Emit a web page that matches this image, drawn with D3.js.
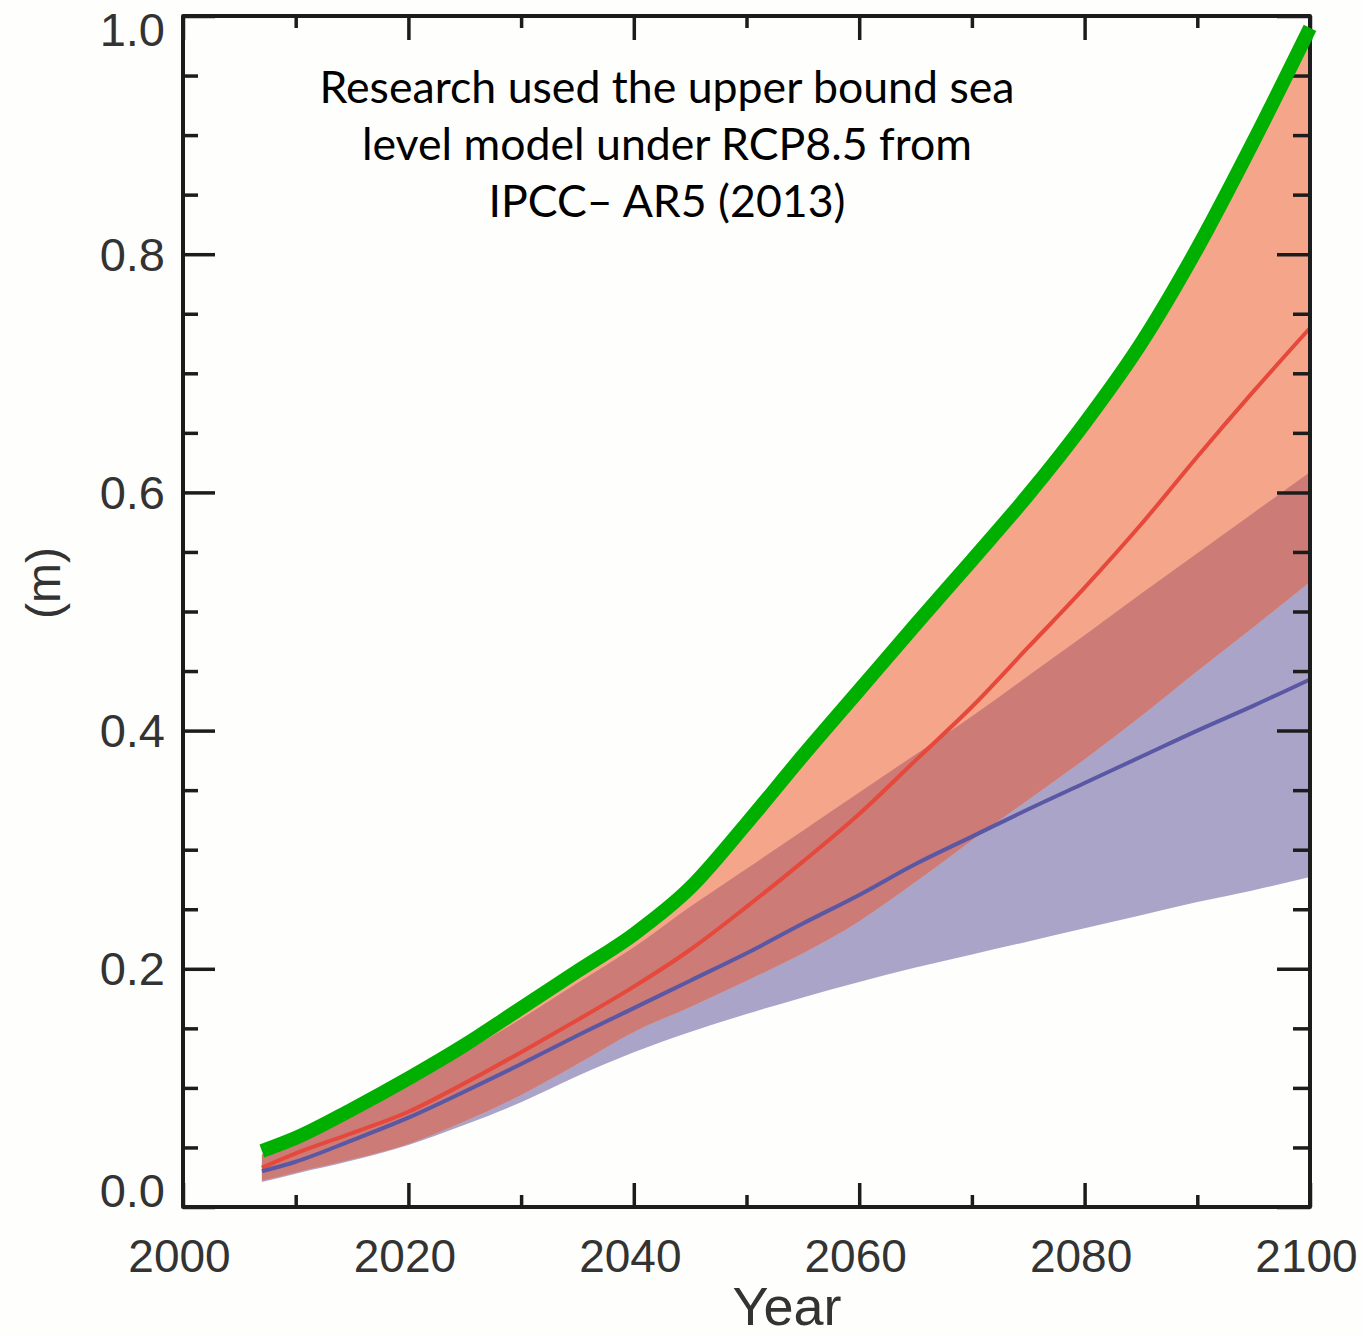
<!DOCTYPE html>
<html>
<head>
<meta charset="utf-8">
<script src="https://cdn.jsdelivr.net/npm/d3@7"></script>
<style>
  html, body { margin: 0; padding: 0; background: #fefefc; }
  svg { display: block; }
</style>
</head>
<body>
<svg id="chart" width="1362" height="1335"></svg>
<script>
// ---- data ----
const years = [2007, 2010, 2015, 2020, 2025, 2030, 2035, 2040, 2045, 2050,
               2055, 2060, 2065, 2070, 2075, 2080, 2085, 2090, 2095, 2100];

// upper-bound RCP8.5 line (green)
const upperBound = [0.047, 0.058, 0.082, 0.108, 0.136, 0.167, 0.198, 0.229, 0.268, 0.322,
                    0.379, 0.434, 0.489, 0.543, 0.598, 0.658, 0.725, 0.805, 0.895, 0.990];

// RCP8.5 band and median (red)
const redUpper  = [0.044, 0.055, 0.079, 0.105, 0.133, 0.163, 0.194, 0.225, 0.265, 0.318,
                   0.375, 0.430, 0.485, 0.540, 0.595, 0.655, 0.722, 0.800, 0.890, 0.978];
const redMedian = [0.033, 0.045, 0.062, 0.080, 0.104, 0.130, 0.157, 0.185, 0.216, 0.252,
                   0.290, 0.330, 0.375, 0.420, 0.470, 0.520, 0.573, 0.630, 0.685, 0.738];
const redLower  = [0.022, 0.029, 0.040, 0.053, 0.072, 0.094, 0.120, 0.147, 0.168, 0.190,
                   0.213, 0.240, 0.273, 0.308, 0.342, 0.376, 0.412, 0.450, 0.487, 0.525];

// RCP2.6 band and median (blue)
const blueUpper  = [0.044, 0.055, 0.078, 0.103, 0.130, 0.158, 0.188, 0.218, 0.252, 0.284,
                    0.316, 0.348, 0.380, 0.412, 0.446, 0.480, 0.515, 0.549, 0.583, 0.617];
const blueMedian = [0.030, 0.038, 0.056, 0.075, 0.097, 0.120, 0.144, 0.167, 0.190, 0.213,
                    0.238, 0.262, 0.288, 0.311, 0.334, 0.356, 0.378, 0.400, 0.421, 0.443];
const blueLower  = [0.021, 0.028, 0.039, 0.052, 0.069, 0.088, 0.110, 0.130, 0.147, 0.162,
                    0.176, 0.189, 0.201, 0.212, 0.223, 0.234, 0.245, 0.256, 0.266, 0.277];

const xMajorTicks = [2000, 2020, 2040, 2060, 2080, 2100];
const xMinorTicks = [2010, 2030, 2050, 2070, 2090];
const yMajorTicks = [0.0, 0.2, 0.4, 0.6, 0.8, 1.0];
const yMinorTicks = [0.05, 0.10, 0.15, 0.25, 0.30, 0.35, 0.45, 0.50, 0.55,
                     0.65, 0.70, 0.75, 0.85, 0.90, 0.95];

const xTitle = "Year";
const yTitle = "(m)";
const noteLines = ["Research used the upper bound sea",
                   "level model under RCP8.5 from",
                   "IPCC\u2013 AR5 (2013)"];

// ---- layout ----
const svg = d3.select("#chart");
const L = 183, R = 1310, T = 16, B = 1207;
const x = d3.scaleLinear().domain([2000, 2100]).range([L, R]);
const y = d3.scaleLinear().domain([0, 1]).range([B, T]);

const rows = years.map((yr, i) => ({
  yr, up: upperBound[i],
  rU: redUpper[i], rM: redMedian[i], rL: redLower[i],
  bU: blueUpper[i], bM: blueMedian[i], bL: blueLower[i]
}));

const curve = d3.curveMonotoneX;
const areaBlue = d3.area().curve(curve).x(d => x(d.yr)).y0(d => y(d.bL)).y1(d => y(d.bU));
const areaRed  = d3.area().curve(curve).x(d => x(d.yr)).y0(d => y(d.rL)).y1(d => y(d.rU));
const line = key => d3.line().curve(curve).x(d => x(d.yr)).y(d => y(d[key]));

const defs = svg.append("defs");
defs.append("clipPath").attr("id", "blueClip")
  .append("path").attr("d", areaBlue(rows));

const plot = svg.append("g");
plot.append("path").attr("d", areaBlue(rows)).attr("fill", "#aaa4c8");
plot.append("path").attr("d", areaRed(rows)).attr("fill", "#f5a58a");
plot.append("path").attr("d", areaRed(rows)).attr("fill", "#cc7b77")
  .attr("clip-path", "url(#blueClip)");

plot.append("path").attr("d", line("rM")(rows))
  .attr("fill", "none").attr("stroke", "#e6483b").attr("stroke-width", 4);
plot.append("path").attr("d", line("bM")(rows))
  .attr("fill", "none").attr("stroke", "#5a58a4").attr("stroke-width", 4);

// ---- axes (ticks pointing inward) ----
const tickColor = "#1c1c1c";
function styleAxis(g) {
  g.select(".domain").remove();
  g.selectAll(".tick line").attr("stroke", tickColor).attr("stroke-width", 3.5);
}
const labelFont = "'Liberation Sans', Arial, Helvetica, sans-serif";

// bottom
const gB = svg.append("g").attr("transform", `translate(0,${B})`)
  .call(d3.axisBottom(x).tickValues(xMajorTicks).tickSize(-24).tickPadding(32)
        .tickFormat(d3.format("d")));
styleAxis(gB);
gB.selectAll("text").attr("font-family", labelFont).attr("font-size", 46).attr("fill", "#333")
  .attr("dx", "-4");
svg.append("g").attr("transform", `translate(0,${B})`)
  .call(d3.axisBottom(x).tickValues(xMinorTicks).tickSize(-12).tickFormat(""))
  .call(styleAxis);

// top
svg.append("g").attr("transform", `translate(0,${T})`)
  .call(d3.axisTop(x).tickValues(xMajorTicks).tickSize(-24).tickFormat("")).call(styleAxis);
svg.append("g").attr("transform", `translate(0,${T})`)
  .call(d3.axisTop(x).tickValues(xMinorTicks).tickSize(-12).tickFormat("")).call(styleAxis);

// left
const gL = svg.append("g").attr("transform", `translate(${L},0)`)
  .call(d3.axisLeft(y).tickValues(yMajorTicks).tickSize(-32).tickPadding(18)
        .tickFormat(d3.format(".1f")));
styleAxis(gL);
gL.selectAll("text").attr("font-family", labelFont).attr("font-size", 47).attr("fill", "#333")
  .attr("dy", d => d === 0 ? "-0.02em" : (d === 1 ? "0.62em" : "0.34em"));
svg.append("g").attr("transform", `translate(${L},0)`)
  .call(d3.axisLeft(y).tickValues(yMinorTicks).tickSize(-15).tickFormat("")).call(styleAxis);

// right
svg.append("g").attr("transform", `translate(${R},0)`)
  .call(d3.axisRight(y).tickValues(yMajorTicks).tickSize(-33).tickFormat("")).call(styleAxis);
svg.append("g").attr("transform", `translate(${R},0)`)
  .call(d3.axisRight(y).tickValues(yMinorTicks).tickSize(-17).tickFormat("")).call(styleAxis);

// frame
svg.append("rect").attr("x", L).attr("y", T).attr("width", R - L).attr("height", B - T)
  .attr("fill", "none").attr("stroke", tickColor).attr("stroke-width", 4)
  .attr("stroke-linejoin", "round");

// green upper-bound line on top
svg.append("path").attr("d", line("up")(rows))
  .attr("fill", "none").attr("stroke", "#00b000").attr("stroke-width", 14)
  .attr("stroke-linecap", "butt");

// axis titles
svg.append("text").attr("x", 787).attr("y", 1325).attr("text-anchor", "middle")
  .attr("font-family", labelFont).attr("font-size", 54).attr("fill", "#333").text(xTitle);
svg.append("text").attr("transform", "translate(60,583) rotate(-90)")
  .attr("text-anchor", "middle").attr("font-family", labelFont).attr("font-size", 48)
  .attr("fill", "#333").text(yTitle);

// annotation
const note = svg.append("g");
const noteFont = "Lato, 'Open Sans', sans-serif";
const t0 = note.append("text").attr("font-family", noteFont).attr("font-size", 40).text(noteLines[0]);
const w0 = t0.node().getComputedTextLength();
t0.remove();
const fs = 40 * 695 / w0;
noteLines.forEach((s, i) => {
  note.append("text").attr("x", 667).attr("y", 103 + i * 57)
    .attr("text-anchor", "middle").attr("font-family", noteFont)
    .attr("font-size", fs).attr("fill", "#000").text(s);
});
</script>
</body>
</html>
